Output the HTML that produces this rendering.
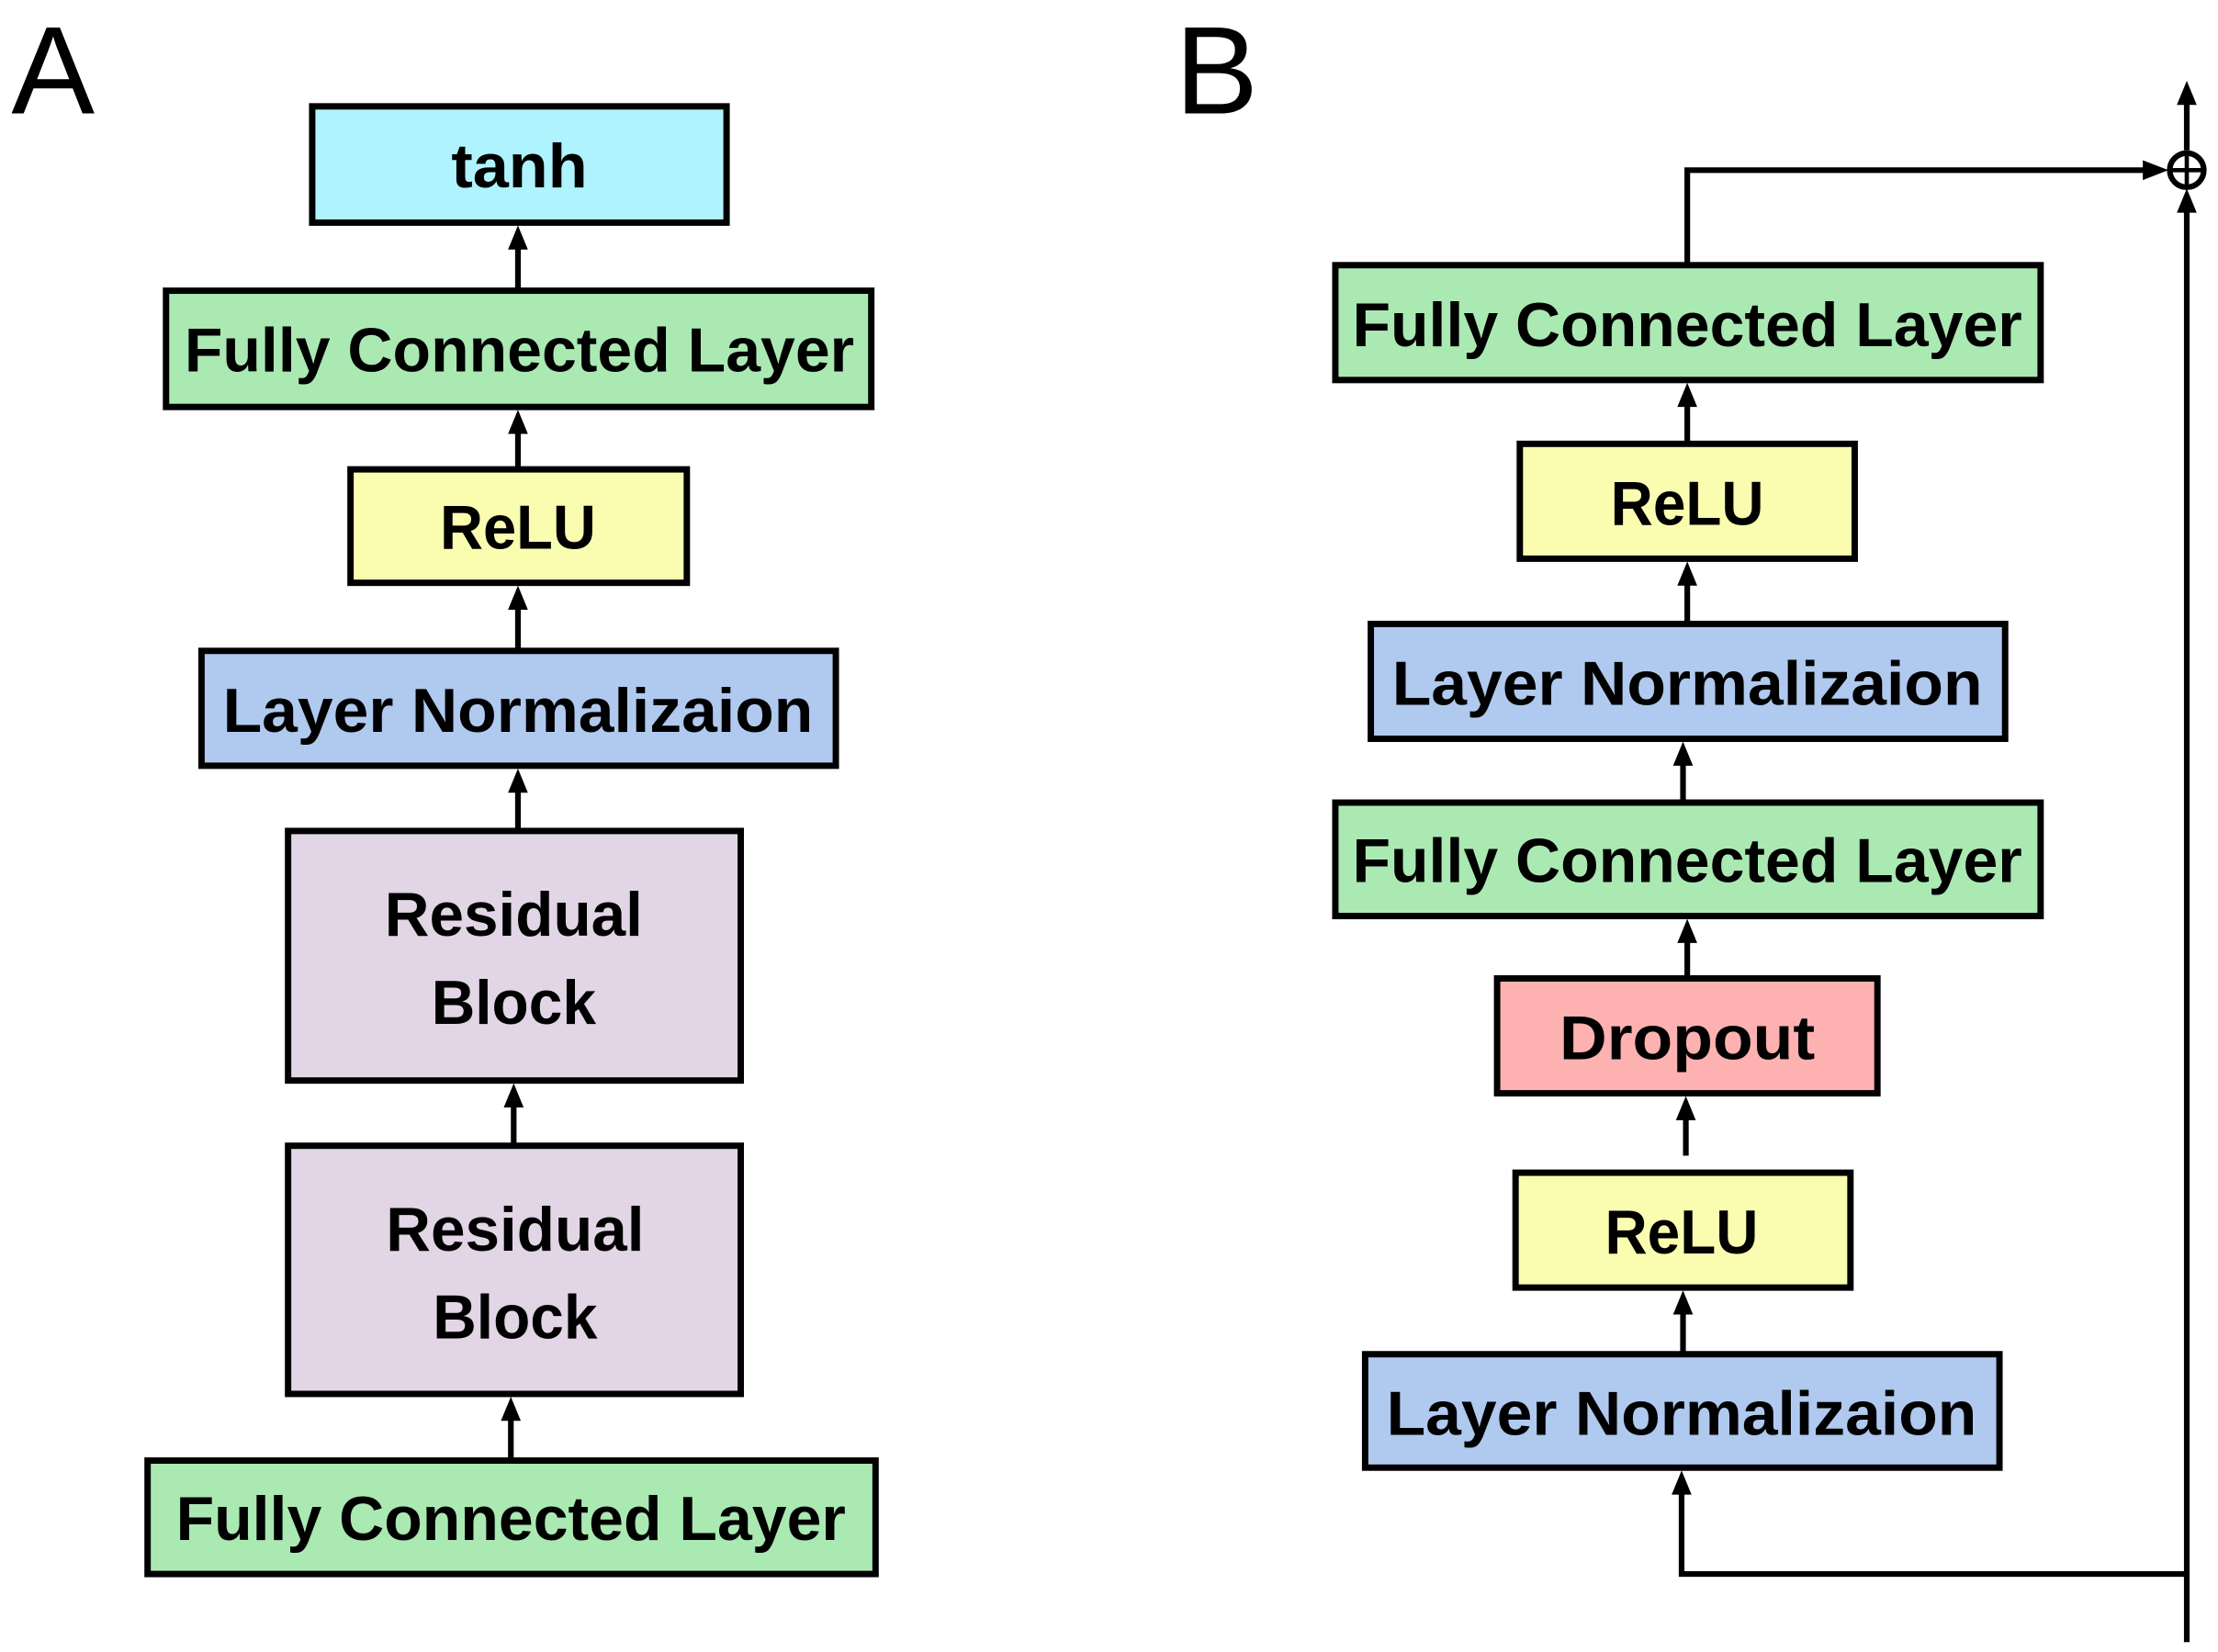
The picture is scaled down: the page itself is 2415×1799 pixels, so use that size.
<!DOCTYPE html>
<html><head><style>
html,body{margin:0;padding:0;background:#fff;}
svg{display:block;}
text{font-family:"Liberation Sans",sans-serif;font-weight:bold;fill:#000;}
</style></head><body>
<svg width="2415" height="1799" viewBox="0 0 1563 1165" preserveAspectRatio="none" xmlns="http://www.w3.org/2000/svg">
<rect width="1563" height="1165" fill="#fff"/>
<text x="8" y="80" font-size="88" style="font-weight:normal">A</text>
<text x="828" y="80" font-size="88" style="font-weight:normal">B</text>
<g stroke="#000" stroke-width="4.5">
<rect x="220" y="75" width="292" height="82" fill="#aef3fd"/>
<rect x="117" y="205" width="497" height="82" fill="#abe9b3"/>
<rect x="247" y="331" width="237" height="80" fill="#fafcb0"/>
<rect x="142" y="459" width="447" height="81" fill="#b0c9ef"/>
<rect x="203" y="586" width="319" height="176" fill="#e2d5e5"/>
<rect x="203" y="808" width="319" height="175" fill="#e2d5e5"/>
<rect x="104" y="1030" width="513" height="80" fill="#abe9b3"/>
<rect x="941" y="187" width="497" height="81" fill="#abe9b3"/>
<rect x="1071" y="313" width="236" height="81" fill="#fafcb0"/>
<rect x="966" y="440" width="447" height="81" fill="#b0c9ef"/>
<rect x="941" y="566" width="497" height="80" fill="#abe9b3"/>
<rect x="1055" y="690" width="268" height="81" fill="#fdb1b1"/>
<rect x="1068" y="827" width="236" height="81" fill="#fafcb0"/>
<rect x="962" y="955" width="447" height="80" fill="#b0c9ef"/>
</g>
<g stroke="#000" stroke-width="4" fill="none">
<line x1="365" y1="203" x2="365" y2="170"/>
<line x1="365" y1="329" x2="365" y2="300"/>
<line x1="365" y1="457" x2="365" y2="425"/>
<line x1="365" y1="584" x2="365" y2="555"/>
<line x1="362" y1="806" x2="362" y2="777"/>
<line x1="360" y1="1028" x2="360" y2="998"/>
<line x1="1189" y1="311" x2="1189" y2="282"/>
<line x1="1189" y1="438" x2="1189" y2="408"/>
<line x1="1186" y1="564" x2="1186" y2="535"/>
<line x1="1189" y1="688" x2="1189" y2="660"/>
<line x1="1188" y1="815" x2="1188" y2="785"/>
<line x1="1186" y1="953" x2="1186" y2="922"/>
<polyline points="1541,1110 1185,1110 1185,1050"/>
<polyline points="1189,185 1189,120 1515,120"/>
<line x1="1541" y1="1158" x2="1541" y2="145"/>
<line x1="1541" y1="106" x2="1541" y2="70"/>
</g>
<g fill="#000">
<polygon points="365,159 358,176 372,176"/>
<polygon points="365,289 358,306 372,306"/>
<polygon points="365,413 358,430 372,430"/>
<polygon points="365,542 358,559 372,559"/>
<polygon points="362,764 355,781 369,781"/>
<polygon points="360,985 353,1002 367,1002"/>
<polygon points="1189,270 1182,287 1196,287"/>
<polygon points="1189,396 1182,413 1196,413"/>
<polygon points="1186,523 1179,540 1193,540"/>
<polygon points="1189,648 1182,665 1196,665"/>
<polygon points="1188,773 1181,790 1195,790"/>
<polygon points="1186,910 1179,927 1193,927"/>
<polygon points="1185,1037 1178,1054 1192,1054"/>
<polygon points="1528,120 1510,113 1510,127"/>
<polygon points="1541,133 1534,150 1548,150"/>
<polygon points="1541,57 1534,74 1548,74"/>
</g>
<circle cx="1541" cy="120" r="12" fill="#fff" stroke="#000" stroke-width="4"/>
<line x1="1529" y1="120" x2="1553" y2="120" stroke="#000" stroke-width="3"/>
<line x1="1541" y1="108" x2="1541" y2="132" stroke="#000" stroke-width="3"/>
<g font-size="44" text-anchor="middle">
<text x="366" y="132" textLength="96" lengthAdjust="spacingAndGlyphs">tanh</text>
<text x="366" y="262" textLength="472" lengthAdjust="spacingAndGlyphs">Fully Connected Layer</text>
<text x="365" y="387" textLength="110" lengthAdjust="spacingAndGlyphs">ReLU</text>
<text x="365" y="516" textLength="416" lengthAdjust="spacingAndGlyphs">Layer Normalizaion</text>
<text x="362" y="660" textLength="182" lengthAdjust="spacingAndGlyphs">Residual</text>
<text x="362" y="722" textLength="116" lengthAdjust="spacingAndGlyphs">Block</text>
<text x="363" y="882" textLength="182" lengthAdjust="spacingAndGlyphs">Residual</text>
<text x="363" y="944" textLength="116" lengthAdjust="spacingAndGlyphs">Block</text>
<text x="360" y="1086" textLength="472" lengthAdjust="spacingAndGlyphs">Fully Connected Layer</text>
<text x="1189" y="244" textLength="472" lengthAdjust="spacingAndGlyphs">Fully Connected Layer</text>
<text x="1189" y="370" textLength="108" lengthAdjust="spacingAndGlyphs">ReLU</text>
<text x="1189" y="497" textLength="416" lengthAdjust="spacingAndGlyphs">Layer Normalizaion</text>
<text x="1189" y="622" textLength="472" lengthAdjust="spacingAndGlyphs">Fully Connected Layer</text>
<text x="1189" y="747" textLength="180" lengthAdjust="spacingAndGlyphs">Dropout</text>
<text x="1185" y="884" textLength="108" lengthAdjust="spacingAndGlyphs">ReLU</text>
<text x="1185" y="1012" textLength="416" lengthAdjust="spacingAndGlyphs">Layer Normalizaion</text>
</g>
</svg>
</body></html>
